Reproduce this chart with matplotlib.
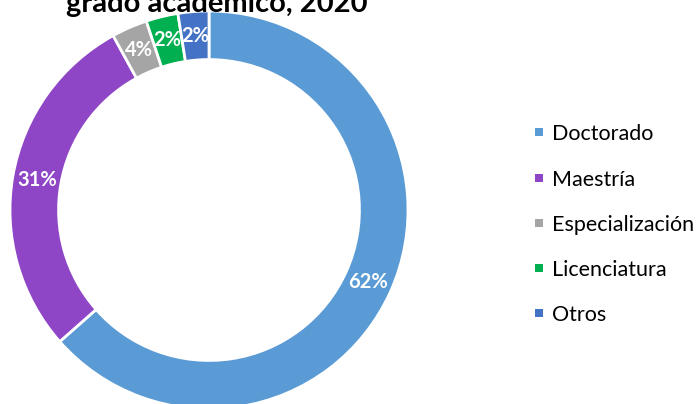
import matplotlib
matplotlib.use('Agg')
import numpy as np
import matplotlib.pyplot as plt
from matplotlib.patches import Rectangle

# datos (angulos, etiquetas tal como aparecen)
categorias = ['Doctorado', 'Maestría', 'Especialización', 'Licenciatura', 'Otros']
valores = [63.5, 28.5, 2.9, 2.6, 2.5]
etiquetas = ['62%', '31%', '4%', '2%', '2%']
colores = ['#5B9BD5', '#8E46C6', '#A5A5A5', '#00B050', '#4472C4']
titulo = 'grado académico, 2020'

plt.rcParams['font.family'] = ['Lato', 'DejaVu Sans']

W, H = 698, 404
fig = plt.figure(figsize=(W / 100, H / 100), dpi=100)

# anillo: centro (209, 210) px, radio 199 px
cx, cy, r = 209, 210, 199
ax = fig.add_axes([(cx - r) / W, (H - cy - r) / H, 2 * r / W, 2 * r / H])

ancho = 0.244
wedges, _ = ax.pie(valores, colors=colores, startangle=90, counterclock=False,
                   radius=1, wedgeprops=dict(width=ancho, edgecolor='white', linewidth=2))
ax.set_xlim(-1, 1)
ax.set_ylim(-1, 1)
ax.axis('off')

# etiquetas en el centro del anillo
total = sum(valores)
acum = 0
for v, et in zip(valores, etiquetas):
    mid = 90 - 360 * (acum + v / 2) / total
    acum += v
    rr = 1 - ancho / 2
    ax.text(rr * np.cos(np.radians(mid)), rr * np.sin(np.radians(mid)), et,
            ha='center', va='center', color='white', fontsize=14.5, fontweight='bold')

# el titulo queda cortado arriba, como en el original
fig.text(216.5 / W, 1 - 12 / H, titulo, ha='center', va='baseline', fontsize=21,
         fontweight='bold', color='black')

# leyenda
y_filas = [132, 178, 223, 268, 313]
for cat, col, yf in zip(categorias, colores, y_filas):
    fig.patches.append(Rectangle((535 / W, 1 - (yf + 4) / H), 8 / W, 8 / H,
                                 transform=fig.transFigure, facecolor=col, edgecolor='none'))
    fig.text(552 / W, 1 - yf / H, cat, ha='left', va='center_baseline', fontsize=15.5,
             color='black')

fig.savefig('out.png', dpi=100)
